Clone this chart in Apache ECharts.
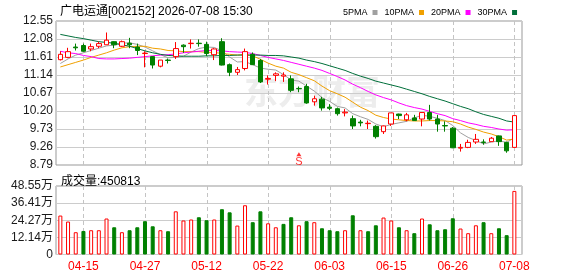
<!DOCTYPE html>
<html><head><meta charset="utf-8">
<script src="https://cdn.jsdelivr.net/npm/echarts@6/dist/echarts.min.js"></script>
<style>html,body{margin:0;padding:0;background:#fff}#c{width:578px;height:276px}</style>
</head><body><div id="c"></div>
<script>
const dates = ['04-10','04-13','04-14','04-15','04-16','04-17','04-20','04-21','04-22','04-23',
'04-24','04-27','04-28','04-29','04-30','05-06','05-07','05-08','05-11','05-12',
'05-13','05-14','05-15','05-18','05-19','05-20','05-21','05-22','05-25','05-26',
'05-27','05-28','05-29','06-01','06-02','06-03','06-04','06-05','06-08','06-09',
'06-10','06-11','06-12','06-15','06-16','06-17','06-18','06-22','06-23','06-24',
'06-25','06-26','06-29','06-30','07-01','07-02','07-03','07-06','07-07','07-08'];
const opens = [11.54,11.60,11.87,11.91,11.82,11.89,11.93,12.01,11.89,11.97,
11.87,11.70,11.62,11.37,11.53,11.62,11.92,11.96,11.97,11.94,
11.67,12.01,11.41,11.21,11.31,11.68,11.52,11.03,11.13,11.11,
11.04,10.79,10.84,10.44,10.51,10.30,10.26,10.15,10.00,9.91,
9.87,9.80,9.66,9.86,10.12,9.97,10.02,9.99,10.16,9.99,
9.82,9.75,9.23,9.25,9.39,9.39,9.40,9.55,9.38,9.25];
const closes = [11.68,11.75,11.85,11.76,11.88,11.96,12.05,11.93,12.01,11.93,
11.78,11.71,11.40,11.53,11.52,11.83,11.88,11.97,11.96,11.70,
11.82,11.40,11.21,11.28,11.75,11.41,10.96,11.05,11.17,11.14,
10.74,10.78,10.41,10.52,10.28,10.27,10.13,10.17,9.81,9.89,
9.88,9.53,9.81,10.15,10.08,10.10,9.95,10.16,9.99,9.86,
9.81,9.24,9.25,9.38,9.46,9.38,9.49,9.40,9.16,10.08];
const lows = [11.52,11.58,11.78,11.75,11.76,11.84,11.93,11.84,11.87,11.84,
11.66,11.34,11.31,11.34,11.44,11.56,11.72,11.83,11.88,11.63,
11.53,11.39,11.11,11.14,11.26,11.40,10.93,10.89,10.98,10.96,
10.69,10.69,10.39,10.34,10.21,10.22,10.08,10.06,9.73,9.80,
9.73,9.48,9.60,9.81,9.99,9.93,9.94,9.80,9.95,9.66,
9.66,9.23,9.14,9.23,9.34,9.32,9.40,9.29,9.11,9.25];
const highs = [11.76,11.85,11.96,11.96,11.96,12.01,12.25,12.02,12.04,12.11,
11.96,11.76,11.63,11.53,11.57,12.00,11.94,12.07,12.07,12.01,
11.84,12.10,11.44,11.35,11.83,11.73,11.56,11.13,11.21,11.21,
11.13,10.84,10.91,10.60,10.57,10.38,10.29,10.25,10.08,9.97,
9.95,9.83,9.82,10.15,10.13,10.15,10.10,10.17,10.36,10.10,
9.93,9.78,9.34,9.45,9.60,9.46,9.52,9.56,9.40,10.08];
const volumes = [276000,233500,158000,167000,172000,172000,255000,193000,158000,172000,
193000,236000,200000,172000,165000,306000,241000,248000,264000,243000,
248000,321000,299000,205000,349000,229000,306000,221000,193000,217000,
264000,207000,236000,229000,186000,172000,165000,172000,278000,172000,
165000,207000,262000,241000,193000,172000,151000,255000,214000,172000,
179000,257000,184000,151000,207000,229000,151000,186000,137000,450813];
const ma5 = [11.44,11.56,11.66,11.72,11.78,11.84,11.90,11.92,11.97,11.98,
11.94,11.87,11.77,11.67,11.59,11.60,11.63,11.74,11.83,11.87,
11.86,11.77,11.61,11.48,11.49,11.41,11.32,11.29,11.27,11.15,
11.01,10.98,10.85,10.72,10.55,10.45,10.32,10.28,10.13,10.05,
9.98,9.86,9.79,9.85,9.89,9.93,10.02,10.09,10.06,10.01,
9.95,9.82,9.63,9.51,9.43,9.34,9.39,9.42,9.38,9.50];
const ma10 = [11.35,11.41,11.47,11.53,11.60,11.66,11.72,11.79,11.85,11.88,
11.89,11.89,11.84,11.82,11.78,11.77,11.75,11.75,11.75,11.73,
11.73,11.70,11.68,11.66,11.68,11.64,11.55,11.45,11.37,11.32,
11.21,11.15,11.07,10.99,10.85,10.73,10.65,10.56,10.43,10.30,
10.21,10.09,10.03,9.99,9.97,9.95,9.94,9.94,9.95,9.95,
9.94,9.92,9.86,9.78,9.72,9.65,9.60,9.53,9.44,9.47];
const ma20 = [11.76,11.72,11.70,11.65,11.62,11.57,11.56,11.56,11.57,11.58,
11.60,11.62,11.64,11.66,11.67,11.69,11.72,11.74,11.76,11.78,
11.78,11.77,11.75,11.74,11.73,11.70,11.65,11.60,11.56,11.52,
11.47,11.42,11.37,11.32,11.26,11.18,11.10,11.01,10.90,10.81,
10.71,10.62,10.55,10.49,10.41,10.34,10.29,10.25,10.19,10.13,
10.08,10.00,9.95,9.89,9.85,9.80,9.77,9.73,9.70,9.71];
const ma30 = [12.20,12.16,12.12,12.09,12.05,12.01,11.99,11.97,11.93,11.89,
11.83,11.77,11.72,11.68,11.65,11.64,11.63,11.63,11.63,11.64,
11.64,11.65,11.65,11.66,11.66,11.66,11.66,11.65,11.65,11.64,
11.61,11.58,11.53,11.49,11.44,11.38,11.32,11.26,11.18,11.11,
11.05,10.98,10.93,10.88,10.83,10.77,10.71,10.65,10.58,10.52,
10.46,10.39,10.32,10.26,10.18,10.11,10.06,10.01,9.94,9.91];
const priceMin = 8.79, priceMax = 12.55, priceStep = 0.47;
const volMax = 485500, volStep = 121375;
const signalIndex = 31, signalPrice = 9.07;

const RED = '#ff0000', GREEN = '#008000';
const numFont = 'Liberation Sans, Arial, sans-serif';
const cjkFont = 'Liberation Sans, Noto Sans CJK SC, sans-serif';
const showIdx = i => i % 8 === 3;
const labelIdx = dates.map((d, i) => i).filter(showIdx);

const candleData = dates.map((d, i) => [opens[i], closes[i], lows[i], highs[i]]);
const volData = volumes.map((v, i) => {
  const up = i === 0 || closes[i] >= closes[i - 1];
  return { value: v, itemStyle: up ? { color: '#ffffff', borderColor: RED, borderWidth: 1 }
                                   : { color: GREEN, borderColor: GREEN, borderWidth: 1 } };
});
// dashed vertical guides at the labelled dates, placed through the category scale
const guideSeries = (xi, yi, lo, hi) => ({
  type: 'custom', coordinateSystem: 'cartesian2d', xAxisIndex: xi, yAxisIndex: yi, z: 2, silent: true, clip: false,
  data: labelIdx.map(i => [i, lo, hi]), encode: { x: 0, y: [1, 2] },
  renderItem: (params, api) => {
    const p1 = api.coord([api.value(0), api.value(2)]);
    const p2 = api.coord([api.value(0), api.value(1)]);
    const x = Math.round(p1[0]) + 0.5;
    return { type: 'line', shape: { x1: x, y1: p1[1], x2: x, y2: p2[1] },
             style: { stroke: '#c4c4c4', lineWidth: 1, lineDash: [4, 3], fill: null } };
  }
});

const chart = echarts.init(document.getElementById('c'), null, { renderer: 'canvas' });
const catAxis = (gi, labels) => ({
  gridIndex: gi, type: 'category', data: dates, boundaryGap: true,
  axisLine: { show: false }, axisTick: { show: false },
  axisLabel: labels ? { show: true, interval: (i) => showIdx(i), color: RED, fontSize: 12, margin: 6, fontFamily: numFont } : { show: false },
  splitLine: { show: false }
});
const maLine = (name, data, color) => ({
  name, type: 'line', data, xAxisIndex: 1, yAxisIndex: 1, symbol: 'none', z: 2,
  color, lineStyle: { color, width: 1 }, silent: true
});

chart.setOption({
  animation: false,
  backgroundColor: '#ffffff',
  title: [
    { text: '广电运通[002152] 2026-07-08 15:30', left: 55, top: 1,
      textStyle: { fontSize: 12, fontWeight: 'normal', color: '#000', fontFamily: cjkFont } },
    { text: '成交量:' + volumes[volumes.length - 1], left: 56, top: 171,
      textStyle: { fontSize: 12, fontWeight: 'normal', color: '#000', fontFamily: cjkFont } }
  ],
  legend: {
    data: ['5PMA', '10PMA', '20PMA', '30PMA'], left: 338, top: 3, align: 'right',
    icon: 'rect', itemWidth: 5, itemHeight: 5, itemGap: 7,
    textStyle: { fontSize: 9, color: '#000', fontFamily: numFont }
  },
  graphic: [{
    type: 'text', left: 244, top: 74, z: 0, silent: true,
    style: { text: '东方财富', font: 'bold 34px "Noto Sans CJK SC"', fill: '#ededed' }
  }],
  grid: [
    { left: 56, top: 21, width: 466, height: 144, show: true, borderColor: '#999999', borderWidth: 1, backgroundColor: 'rgba(0,0,0,0)' },
    { left: 56.5, top: 21, width: 461.7, height: 144 },
    { left: 56, top: 186, width: 466, height: 68.5, show: true, borderColor: '#999999', borderWidth: 1, backgroundColor: 'rgba(0,0,0,0)' },
    { left: 56.5, top: 186, width: 461.7, height: 68.5 }
  ],
  xAxis: [
    { gridIndex: 0, type: 'value', min: 0, max: 1, show: false },
    catAxis(1, false),
    { gridIndex: 2, type: 'value', min: 0, max: 1, show: false },
    catAxis(3, true)
  ],
  yAxis: [
    { gridIndex: 0, type: 'value', min: priceMin, max: priceMax, interval: priceStep,
      axisLine: { show: false }, axisTick: { show: false },
      axisLabel: { formatter: v => v.toFixed(2), color: '#1a1a1a', fontSize: 12, margin: 3, fontFamily: numFont },
      splitLine: { show: true, lineStyle: { color: '#cccccc', width: 1 } } },
    { gridIndex: 1, type: 'value', min: priceMin, max: priceMax, show: false },
    { gridIndex: 2, type: 'value', min: 0, max: volMax, interval: volStep,
      axisLine: { show: false }, axisTick: { show: false },
      axisLabel: { formatter: v => v === 0 ? '0' : (v / 10000).toFixed(2) + '万', color: '#1a1a1a', fontSize: 12, margin: 3, fontFamily: cjkFont },
      splitLine: { show: true, lineStyle: { color: '#cccccc', width: 1 } } },
    { gridIndex: 3, type: 'value', min: 0, max: volMax, show: false }
  ],
  series: [
    guideSeries(1, 1, priceMin, priceMax),
    maLine('5PMA', ma5, '#a0a0a0'),
    maLine('10PMA', ma10, '#f0a000'),
    maLine('20PMA', ma20, '#ff00ff'),
    maLine('30PMA', ma30, '#006f3a'),
    { type: 'candlestick', name: 'K', data: candleData, xAxisIndex: 1, yAxisIndex: 1, barWidth: 5, z: 3,
      itemStyle: { color: '#ffffff', color0: GREEN, borderColor: RED, borderColor0: GREEN, borderWidth: 1 } },
    { type: 'scatter', xAxisIndex: 1, yAxisIndex: 1, z: 4, silent: true,
      data: [[signalIndex, signalPrice]], symbol: 'triangle', symbolSize: [5, 4], itemStyle: { color: RED },
      label: { show: true, position: 'bottom', distance: 0, formatter: 'S', color: RED, fontSize: 11, fontFamily: numFont } },
    guideSeries(3, 3, 0, volMax),
    { type: 'bar', data: volData, xAxisIndex: 3, yAxisIndex: 3, barWidth: 4, z: 3 }
  ]
});
</script></body></html>
